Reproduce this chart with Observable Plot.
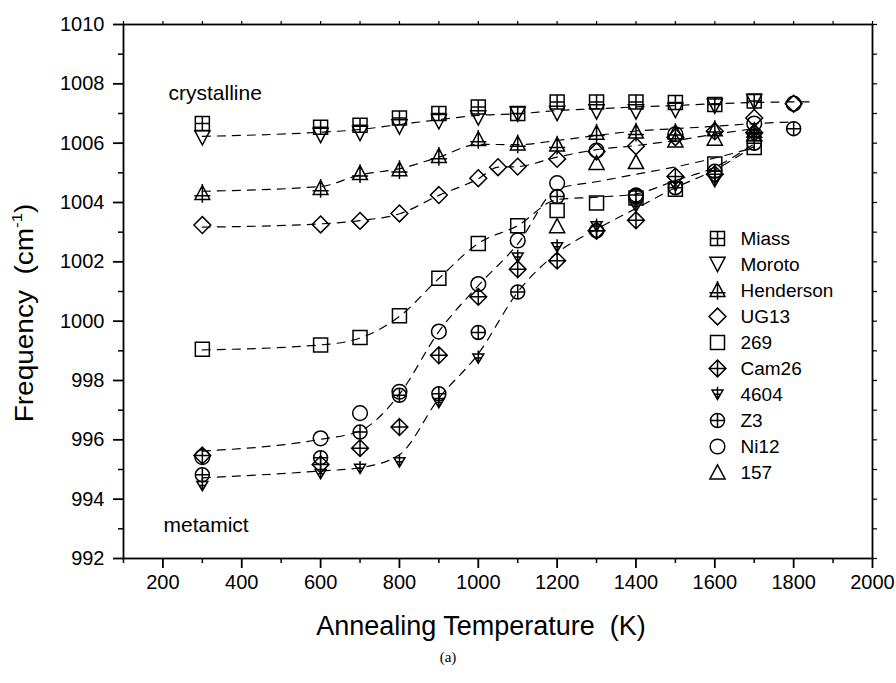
<!DOCTYPE html>
<html><head><meta charset="utf-8">
<script src="https://cdn.jsdelivr.net/npm/d3@7"></script>
<script src="https://cdn.jsdelivr.net/npm/@observablehq/plot@0.6"></script>
<style>
body{margin:0;background:#fff;font-family:"Liberation Sans",Arial,Helvetica,sans-serif;}
#wrap{position:relative;width:896px;height:683px;overflow:hidden;}
#chart{position:absolute;left:0;top:0;}
#legend{position:absolute;left:700px;top:222px;}
#cap{position:absolute;left:0;top:649px;width:896px;text-align:center;font-family:"Liberation Serif","DejaVu Serif",serif;font-size:15px;}
text{white-space:pre;}
</style></head><body>
<div id="wrap"><div id="chart"></div><div id="legend"></div><div id="cap">(a)</div></div>
<script>
// ---------- data ----------
const seriesNames = ["Miass","Moroto","Henderson","UG13","269","Cam26","4604","Z3","Ni12","157"];

const miass = [[300,1006.66],[600,1006.54],[700,1006.6],[800,1006.85],[900,1007.0],[1000,1007.22],[1100,1007.0],[1200,1007.39],[1300,1007.39],[1400,1007.39],[1500,1007.37],[1600,1007.3],[1700,1007.42]];
const moroto = [[300,1006.18],[600,1006.26],[700,1006.33],[800,1006.55],[900,1006.72],[1000,1006.85],[1100,1006.98],[1200,1007.0],[1300,1007.05],[1400,1007.05],[1500,1007.1],[1600,1007.25],[1700,1007.4]];
const henderson = [[300,1004.3],[600,1004.47],[700,1004.97],[800,1005.1],[900,1005.55],[1000,1006.12],[1100,1005.97],[1200,1005.93],[1300,1006.33],[1400,1006.37],[1500,1006.35],[1600,1006.45],[1700,1006.4]];
const ug13 = [[300,1003.24],[600,1003.26],[700,1003.38],[800,1003.63],[900,1004.25],[1000,1004.82],[1050,1005.19],[1100,1005.21],[1200,1005.47],[1300,1005.72],[1400,1005.9],[1500,1006.2],[1600,1006.4],[1700,1006.85],[1800,1007.33]];
const s269 = [[300,999.05],[600,999.2],[700,999.45],[800,1000.18],[900,1001.45],[1000,1002.62],[1100,1003.22],[1200,1003.73],[1300,1003.98],[1400,1004.15],[1500,1004.45],[1600,1005.3],[1700,1005.85]];
const cam26 = [[300,995.47],[600,995.17],[700,995.72],[800,996.43],[900,998.85],[1000,1000.82],[1100,1001.75],[1200,1002.04],[1300,1003.05],[1400,1003.4],[1500,1004.88],[1600,1004.95],[1700,1006.35]];
const s4604 = [[300,994.45],[600,994.85],[700,995.03],[800,995.25],[900,997.25],[1000,998.75],[1100,1002.15],[1200,1002.5],[1300,1003.2],[1400,1003.85],[1500,1004.55],[1600,1004.7],[1700,1006.3]];
const z3 = [[300,994.82],[600,995.4],[700,996.26],[800,997.5],[900,997.55],[1000,999.62],[1100,1000.98],[1200,1004.2],[1300,1003.05],[1400,1004.25],[1500,1004.5],[1600,1005.05],[1700,1006.0],[1800,1006.49]];
const ni12 = [[300,995.42],[600,996.05],[700,996.9],[800,997.62],[900,999.65],[1000,1001.25],[1100,1002.72],[1200,1004.65],[1300,1005.75],[1400,1004.2],[1500,1006.3],[1700,1006.66],[1800,1007.33]];
const s157 = [[1200,1003.2],[1300,1005.33],[1400,1005.36],[1500,1006.09],[1600,1006.15],[1700,1006.3]];

// dashed guide curves
const curveTop = [[300,1006.23],[600,1006.37],[700,1006.46],[800,1006.63],[900,1006.79],[1000,1006.94],[1100,1006.99],[1200,1007.1],[1300,1007.16],[1400,1007.22],[1500,1007.27],[1600,1007.33],[1700,1007.37],[1800,1007.39],[1855,1007.39]];
const curveHenderson = [[300,1004.38],[600,1004.54],[700,1004.93],[800,1005.14],[900,1005.53],[1000,1005.96],[1100,1005.95],[1200,1006.09],[1300,1006.26],[1400,1006.41],[1500,1006.49],[1600,1006.57],[1700,1006.66],[1790,1006.71]];
const curveUG13 = [[300,1003.17],[600,1003.28],[700,1003.39],[800,1003.62],[900,1004.24],[1000,1004.8],[1050,1005.19],[1100,1005.21],[1200,1005.53],[1300,1005.78],[1400,1005.92],[1500,1006.09],[1600,1006.3],[1700,1006.49]];
const curve269 = [[300,999.03],[600,999.2],[700,999.43],[800,1000.16],[900,1001.44],[1000,1002.62],[1100,1003.22],[1200,1004.1],[1300,1004.18],[1400,1004.29],[1500,1004.74],[1600,1005.19],[1700,1005.98]];
const curveNi12 = [[300,995.62],[600,996.02],[700,996.3],[800,997.54],[900,999.65],[1000,1001.2],[1100,1002.6],[1200,1004.45],[1300,1004.7],[1400,1004.95],[1500,1005.2],[1600,1005.5],[1700,1005.85]];
const curveLow = [[300,994.72],[600,994.95],[700,995.06],[800,995.5],[900,997.4],[1000,998.9],[1100,1000.98],[1200,1002.3],[1300,1003.1],[1400,1003.8],[1500,1004.5],[1600,1005.1],[1700,1005.9]];

const xMajor = [200,400,600,800,1000,1200,1400,1600,1800,2000];
const xMinor = [100,300,500,700,900,1100,1300,1500,1700,1900];
const yMajor = [992,994,996,998,1000,1002,1004,1006,1008,1010];
const yMinor = [993,995,997,999,1001,1003,1005,1007,1009];

// ---------- marker shapes ----------
const R = s => Math.sqrt(s / Math.PI);
const sym = {
  Miass: {draw(c, s){const a=R(s); c.rect(-a,-a,2*a,2*a); c.moveTo(-a,0); c.lineTo(a,0); c.moveTo(0,-a); c.lineTo(0,a);}},
  Moroto: {draw(c, s){const a=R(s)*1.08; c.moveTo(-a,-a*0.95); c.lineTo(a,-a*0.95); c.lineTo(0,a*0.95); c.closePath();}},
  Henderson: {draw(c, s){const a=R(s)*1.05; c.moveTo(0,-a*1.1); c.lineTo(a,a*0.8); c.lineTo(-a,a*0.8); c.closePath(); c.moveTo(0,-a*1.3); c.lineTo(0,a*1.25); c.moveTo(-a*1.1,a*0.3); c.lineTo(a*1.1,a*0.3);}},
  UG13: {draw(c, s){const a=R(s)*1.2; c.moveTo(0,-a); c.lineTo(a,0); c.lineTo(0,a); c.lineTo(-a,0); c.closePath();}},
  "269": {draw(c, s){const a=R(s); c.rect(-a,-a,2*a,2*a);}},
  Cam26: {draw(c, s){const a=R(s)*1.2; c.moveTo(0,-a); c.lineTo(a,0); c.lineTo(0,a); c.lineTo(-a,0); c.closePath(); c.moveTo(-a,0); c.lineTo(a,0); c.moveTo(0,-a); c.lineTo(0,a);}},
  "4604": {draw(c, s){const a=R(s)*0.78; c.moveTo(-a,-a*0.8); c.lineTo(a,-a*0.8); c.lineTo(0,a*0.9); c.closePath(); c.moveTo(0,-a*1.4); c.lineTo(0,a*0.9); c.moveTo(-a*0.65,-a*0.05); c.lineTo(a*0.65,-a*0.05);}},
  Z3: {draw(c, s){const a=R(s); c.moveTo(a,0); c.arc(0,0,a,0,2*Math.PI); c.moveTo(-a,0); c.lineTo(a,0); c.moveTo(0,-a); c.lineTo(0,a);}},
  Ni12: {draw(c, s){const a=R(s)*1.05; c.moveTo(a,0); c.arc(0,0,a,0,2*Math.PI);}},
  "157": {draw(c, s){const a=R(s)*1.08; c.moveTo(0,-a); c.lineTo(a,a*0.85); c.lineTo(-a,a*0.85); c.closePath();}}
};
const seriesData = {Miass: miass, Moroto: moroto, Henderson: henderson, UG13: ug13, "269": s269, Cam26: cam26, "4604": s4604, Z3: z3, Ni12: ni12, "157": s157};
const curves = [curveTop, curveHenderson, curveUG13, curve269, curveNi12, curveLow];

const points = seriesNames.flatMap(n => seriesData[n].map(([t, f]) => ({series: n, t, f})));
const symbolScale = {domain: seriesNames, range: seriesNames.map(n => sym[n])};
const font = "'Liberation Sans', Arial, Helvetica, sans-serif";

const chart = Plot.plot({
  width: 896, height: 640,
  marginLeft: 123, marginRight: 24, marginTop: 24, marginBottom: 82,
  style: {fontFamily: font, color: "black", background: "white", overflow: "visible"},
  x: {domain: [100, 2000]},
  y: {domain: [992, 1010]},
  symbol: symbolScale,
  marks: [
    ...curves.map(cv => Plot.line(cv, {x: d => d[0], y: d => d[1], stroke: "black", strokeWidth: 1.2, strokeDasharray: "8,7", curve: "monotone-x"})),
    Plot.dot(points, {x: "t", y: "f", symbol: "series", r: 7, stroke: "black", strokeWidth: 1.5, fill: "none"}),
    Plot.frame({stroke: "black", strokeWidth: 1.8}),
    Plot.axisX({ticks: xMajor, tickSize: 10, tickPadding: 6, tickFormat: "d", label: null, fontSize: 20, strokeWidth: 1.8}),
    Plot.axisX({ticks: xMinor, tickSize: 5, tickFormat: () => "", label: null, strokeWidth: 1.5}),
    Plot.axisX({anchor: "top", ticks: xMajor.concat(xMinor), tickSize: 4, tickFormat: () => "", label: null, strokeWidth: 1.2}),
    Plot.axisY({ticks: yMajor, tickSize: 10, tickPadding: 9, tickFormat: "d", label: null, fontSize: 20, strokeWidth: 1.8}),
    Plot.axisY({ticks: yMinor, tickSize: 5, tickFormat: () => "", label: null, strokeWidth: 1.5}),
    Plot.axisY({anchor: "right", ticks: yMajor.concat(yMinor), tickSize: 4, tickFormat: () => "", label: null, strokeWidth: 1.2}),
    Plot.text(["Annealing Temperature  (K)"], {frameAnchor: "bottom", dx: -17, dy: 76, fontSize: 27, fill: "black"}),
    Plot.text(["crystalline"], {frameAnchor: "top-left", dx: 45, dy: 61, textAnchor: "start", fontSize: 21, fill: "black"}),
    Plot.text(["metamict"], {frameAnchor: "bottom-left", dx: 40, dy: -27, textAnchor: "start", fontSize: 21, fill: "black"})
  ]
});
// y-axis title with superscript
const svg = d3.select(chart);
const yt = svg.append("text")
  .attr("transform", "translate(33,313) rotate(-90) scale(1.12,1)")
  .attr("text-anchor", "middle")
  .attr("font-size", 25)
  .attr("font-family", font)
  .attr("fill", "black");
yt.append("tspan").text("Frequency  (cm");
yt.append("tspan").attr("font-size", 15).attr("dy", -11).text("-1");
yt.append("tspan").attr("dy", 11).text(")");
document.getElementById("chart").appendChild(chart);

// legend (separate small Plot using a point scale)
const legend = Plot.plot({
  width: 140, height: 30 + 9 * 26.3,
  marginTop: 15, marginBottom: 15, marginLeft: 0, marginRight: 0,
  style: {fontFamily: font, background: "transparent", overflow: "visible"},
  y: {type: "point", domain: seriesNames, axis: null, padding: 0},
  symbol: symbolScale,
  marks: [
    Plot.dot(seriesNames, {y: d => d, symbol: d => d, frameAnchor: "left", dx: 17, r: 7, stroke: "black", strokeWidth: 1.5, fill: "none"}),
    Plot.text(seriesNames, {y: d => d, text: d => d, frameAnchor: "left", dx: 40, textAnchor: "start", fontSize: 19, fill: "black"})
  ]
});
document.getElementById("legend").appendChild(legend);
</script>
</body></html>
